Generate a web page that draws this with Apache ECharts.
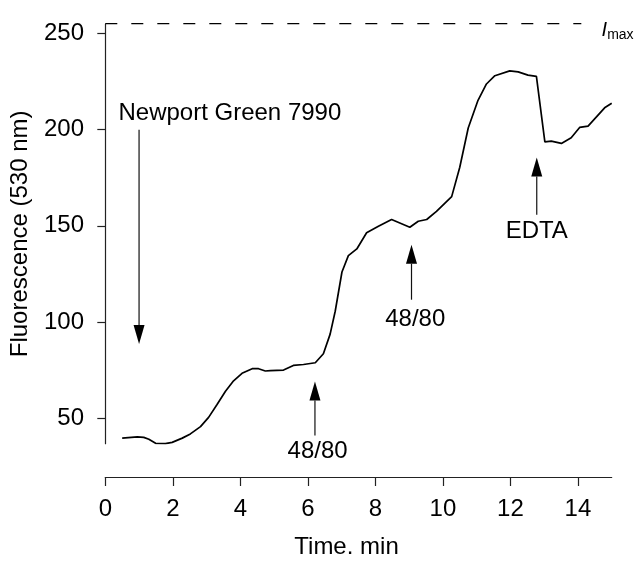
<!DOCTYPE html>
<html><head><meta charset="utf-8">
<script src="https://cdn.jsdelivr.net/npm/echarts@6/dist/echarts.min.js"></script>
<style>html,body{margin:0;padding:0;background:#fff}#c{width:635px;height:564px}</style>
</head><body><div id="c"></div>
<script>
// Trace (time in min, fluorescence at 530 nm)
const timeMin = [0.5, 0.95, 1.14, 1.29, 1.49, 1.78, 1.98, 2.28, 2.52, 2.82, 3.06, 3.31, 3.56, 3.80, 4.05, 4.35, 4.54, 4.74, 4.89, 5.28, 5.57, 5.87, 6.22, 6.46, 6.66, 6.81, 7.01, 7.20, 7.45, 7.74, 8.09, 8.48, 9.02, 9.27, 9.52, 9.81, 10.26, 10.50, 10.75, 11.04, 11.29, 11.54, 11.98, 12.23, 12.52, 12.77, 13.02, 13.21, 13.51, 13.80, 14.05, 14.30, 14.79, 15.0];
const fluorescence = [39.6, 40.3, 40.0, 39.0, 36.9, 36.7, 37.4, 39.6, 41.8, 45.6, 50.4, 57.1, 64.0, 69.4, 73.3, 75.7, 75.7, 74.5, 74.7, 75.0, 77.4, 77.9, 78.8, 83.5, 93.7, 105.6, 126.0, 134.5, 138.0, 146.4, 149.8, 153.3, 149.3, 152.4, 153.3, 157.5, 165.2, 180.5, 200.9, 215.3, 223.8, 228.1, 230.6, 230.1, 228.4, 227.8, 193.7, 194.1, 192.9, 195.8, 201.2, 201.9, 211.4, 213.8];
const xTickValues = [0, 2, 4, 6, 8, 10, 12, 14];
const yTickValues = [50, 100, 150, 200, 250];
// Arrows: time, start value, tip value
const arrowTime = [1.0, 6.21, 9.07, 12.78];
const arrowFrom = [200, 41.0, 111.6, 155.8];
const arrowTo = [88.6, 69.1, 140.2, 185.6];
// Annotation texts and their data positions
const noteText = ['Newport Green 7990', '48/80', '48/80', 'EDTA'];
const noteTime = [3.69, 6.29, 9.18, 12.78];
const noteValue = [208.5, 32.5, 101.3, 147.3];
const imaxValue = 255.2;
const imaxLineEnd = 14.1;

const FONT = "'Liberation Sans', Arial, Helvetica, sans-serif";
const chart = echarts.init(document.getElementById('c'), null, {renderer: 'canvas'});

const noteData = noteText.map((t, i) => ({value: [noteTime[i], noteValue[i]], name: t}));
noteData.push({value: [14.78, 251.8], name: 'I', label: {fontStyle: 'italic', fontSize: 20}});
noteData.push({value: [14.85, 249.2], name: 'max', label: {fontSize: 14, position: 'right', distance: 0}});

chart.setOption({
  animation: false,
  backgroundColor: '#fff',
  grid: {left: 104, right: 23.3, top: 24, bottom: 112.3},
  xAxis: {
    type: 'value', min: 0, max: 15, offset: 33.3,
    name: 'Time. min', nameLocation: 'middle', nameGap: 58,
    nameTextStyle: {fontSize: 24, color: '#000', fontFamily: FONT, padding: [0, 24, 0, 0]},
    axisLine: {lineStyle: {color: '#222', width: 1.2}},
    axisTick: {length: 9, customValues: xTickValues, lineStyle: {color: '#222', width: 1.2}},
    axisLabel: {customValues: xTickValues, margin: 20, fontSize: 24, color: '#000', fontFamily: FONT},
    splitLine: {show: false}
  },
  yAxis: {
    type: 'value', min: 36.7, max: 255, offset: 1.3,
    name: 'Fluorescence (530 nm)', nameLocation: 'middle', nameGap: 72, nameRotate: 90,
    nameTextStyle: {fontSize: 24, color: '#000', fontFamily: FONT},
    axisLine: {show: true, lineStyle: {color: '#222', width: 1.2}},
    axisTick: {show: true, length: 8, customValues: yTickValues, lineStyle: {color: '#222', width: 1.2}},
    axisLabel: {customValues: yTickValues, margin: 20, fontSize: 24, color: '#000', fontFamily: FONT},
    splitLine: {show: false}
  },
  series: [
    {
      type: 'line', data: timeMin.map((t, i) => [t, fluorescence[i]]),
      showSymbol: false, symbol: 'none', silent: true, z: 3,
      lineStyle: {color: '#000', width: 1.7}
    },
    {
      type: 'line', data: [[0, imaxValue], [imaxLineEnd, imaxValue]],
      symbol: 'none', silent: true, clip: false,
      lineStyle: {color: '#000', width: 1.3, type: [12, 14]}
    },
    {
      type: 'custom', clip: false, silent: true,
      encode: {x: 0, y: [1, 2]},
      data: arrowTime.map((t, i) => [t, arrowFrom[i], arrowTo[i]]),
      renderItem: (params, api) => {
        const x = api.value(0);
        const p0 = api.coord([x, api.value(1)]);
        const p1 = api.coord([x, api.value(2)]);
        const dir = p1[1] > p0[1] ? 1 : -1;
        const headLen = 19, headHalf = 5.5;
        const baseY = p1[1] - dir * headLen;
        return {type: 'group', children: [
          {type: 'line', shape: {x1: p0[0], y1: p0[1], x2: p0[0], y2: baseY}, style: {stroke: '#111', lineWidth: 1.2}},
          {type: 'polygon', shape: {points: [[p1[0], p1[1]], [p1[0] - headHalf, baseY], [p1[0] + headHalf, baseY]]}, style: {fill: '#000'}}
        ]};
      }
    },
    {
      type: 'scatter', silent: true, clip: false, symbolSize: 1,
      itemStyle: {color: 'rgba(0,0,0,0)', opacity: 1},
      data: noteData,
      label: {show: true, position: 'inside', formatter: '{b}', fontSize: 24, color: '#000', opacity: 1, fontFamily: FONT}
    }
  ]
});
</script>
</body></html>
